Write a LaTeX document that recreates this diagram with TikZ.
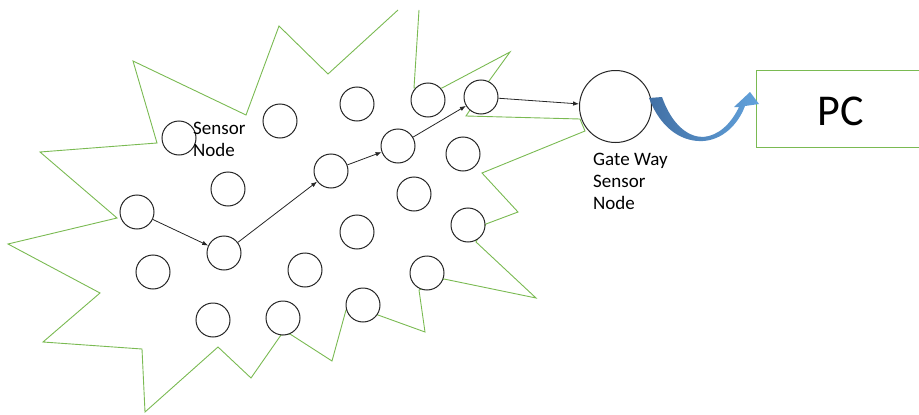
\documentclass[tikz,border=0pt]{standalone}
\usepackage{fontspec}
\setmainfont{Carlito}
\usepackage{xcolor}
\usepackage{tikz}
\usetikzlibrary{arrows.meta, positioning}
\definecolor{netgreen}{RGB}{122,186,82}
\definecolor{arrowdark}{RGB}{66,112,165}
\definecolor{arrowlight}{RGB}{98,162,220}

\begin{document}
\begin{tikzpicture}[
    x=1pt, y=-1pt,
    font=\fontsize{19}{22}\selectfont,
    sensor/.style={circle, draw=black!85, line width=1pt, fill=white, minimum size=34pt, inner sep=0pt},
    gate/.style={circle, draw=black!85, line width=1pt, fill=white, minimum size=72pt, inner sep=0pt},
    cloud/.style={draw=netgreen, line width=0.9pt, line join=miter},
    lbl/.style={anchor=north west, inner sep=0pt, align=left},
    arrow/.style={-{Latex[length=6pt,width=4.5pt]}, line width=0.8pt, draw=black!85}
]
    \clip (0,0) rectangle (919,415);

    % Network area
    \draw[cloud] (398,10) -- (328,74) -- (279,26) -- (246,115) -- (133,61) -- (157,143)
        -- (40,152) -- (117,218) -- (8,244) -- (100,293) -- (43,342) -- (142,349)
        -- (145,412) -- (218,347) -- (251,378) -- (281,335) -- (290,334) -- (332,361)
        -- (346,310) -- (378,315) -- (425,332) -- (419,290) -- (444,279) -- (536,298)
        -- (476,242) -- (486,224) -- (518,212) -- (482,173) -- (585,131) -- (580,119)
        -- (466,116) -- (489,81) -- (510,52) -- (442,88) -- (414,88) -- (419,10);

    % Sensor nodes
    \node[sensor] (s1) at (179,138) {};
    \node[sensor] (s2) at (280,121) {};
    \node[sensor] (s3) at (357,104) {};
    \node[sensor] (s4) at (428,100) {};
    \node[sensor] (s5) at (481,97) {};
    \node[sensor] (s6) at (398,146) {};
    \node[sensor] (s7) at (331,171) {};
    \node[sensor] (s8) at (463,154) {};
    \node[sensor] (s9) at (228,189) {};
    \node[sensor] (s10) at (414,194) {};
    \node[sensor] (s11) at (137,212) {};
    \node[sensor] (s12) at (224,253) {};
    \node[sensor] (s13) at (357,232) {};
    \node[sensor] (s14) at (468,225) {};
    \node[sensor] (s15) at (153,272) {};
    \node[sensor] (s16) at (305,270) {};
    \node[sensor] (s17) at (427,273) {};
    \node[sensor] (s18) at (213,320) {};
    \node[sensor] (s19) at (283,318) {};
    \node[sensor] (s20) at (363,305) {};

    % Gateway and PC
    \node[gate] (gw) at (615.5,106.5) {};
    \draw[draw=netgreen, line width=1pt] (756,70) rectangle (940,147);
    \node[font=\fontsize{44}{50}\selectfont, inner sep=0pt] (pc) at (841,111) {PC};

    % Labels
    \node[lbl] (slbl) at (193,122) {Sensor\\Node};
    \node[lbl] (glbl) at (593,153) {Gate Way\\Sensor\\Node};

    % Route
    \draw[arrow] (s11) -- (s12);
    \draw[arrow] (s12) -- (s7);
    \draw[arrow] (s7) -- (s6);
    \draw[arrow] (s6) -- (s5);
    \draw[arrow] (s5) -- (gw);

    % Upload to PC
    \shade[left color=arrowdark, right color=arrowlight]
        (649,98) .. controls (662,132) and (685,142) .. (703,141)
        .. controls (722,140) and (738,125) .. (745,106) -- (759,104) -- (750,92)
        -- (734,107) -- (739,107) .. controls (731,124) and (718,136) .. (703,137)
        .. controls (688,137) and (672,125) .. (662,97) -- cycle;
\end{tikzpicture}
\end{document}
